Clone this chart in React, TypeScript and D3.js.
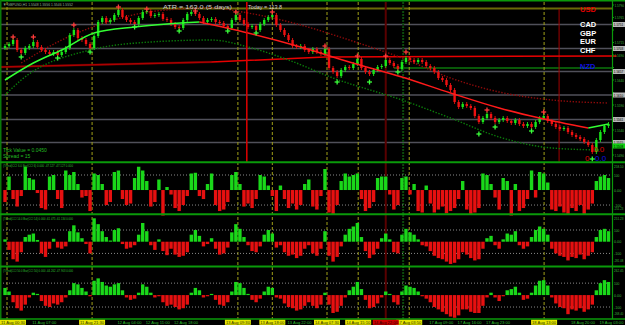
import React from 'react';
import * as d3 from 'd3';

// ---------- data ----------
const symbolLabel = 'GBPUSD,H1  1.5548 1.5556 1.5546 1.5552';
const firstOpen = 1.5704;
const closes = [
  1.5708, 1.5712, 1.5720, 1.5700, 1.5694, 1.5704, 1.5708, 1.5716, 1.5706, 1.5700,
  1.5696, 1.5692, 1.5696, 1.5690, 1.5696, 1.5704, 1.5730, 1.5740, 1.5724, 1.5720,
  1.5712, 1.5704, 1.5728, 1.5756, 1.5764, 1.5756, 1.5760, 1.5770, 1.5780, 1.5766,
  1.5760, 1.5756, 1.5752, 1.5764, 1.5776, 1.5778, 1.5768, 1.5770, 1.5772, 1.5762,
  1.5760, 1.5752, 1.5746, 1.5744, 1.5760, 1.5772, 1.5776, 1.5772, 1.5764, 1.5756,
  1.5760, 1.5762, 1.5756, 1.5754, 1.5748, 1.5744, 1.5760, 1.5770, 1.5760, 1.5752,
  1.5746, 1.5748, 1.5740, 1.5752, 1.5760, 1.5766, 1.5770, 1.5750, 1.5740, 1.5730,
  1.5720, 1.5708, 1.5706, 1.5708, 1.5700, 1.5696, 1.5702, 1.5696, 1.5692, 1.5702,
  1.5664, 1.5656, 1.5648, 1.5660, 1.5666, 1.5664, 1.5672, 1.5682, 1.5664, 1.5656,
  1.5652, 1.5660, 1.5666, 1.5668, 1.5680, 1.5674, 1.5668, 1.5662, 1.5676, 1.5684,
  1.5680, 1.5676, 1.5680, 1.5676, 1.5668, 1.5664, 1.5656, 1.5644, 1.5640, 1.5630,
  1.5620, 1.5596, 1.5586, 1.5592, 1.5588, 1.5584, 1.5568, 1.5556, 1.5564, 1.5572,
  1.5564, 1.5556, 1.5560, 1.5564, 1.5558, 1.5554, 1.5560, 1.5552, 1.5548, 1.5552,
  1.5546, 1.5556, 1.5564, 1.5568, 1.5558, 1.5552, 1.5546, 1.5542, 1.5544, 1.5536,
  1.5530, 1.5526, 1.5522, 1.5516, 1.5510, 1.5496, 1.5520, 1.5536, 1.5548, 1.5552,
];
const fractalsUp: [number, number][] = [
  [2, 1.5726], [7, 1.5726], [17, 1.5750], [28, 1.5786], [35, 1.5782], [47, 1.5778],
  [57, 1.5776], [66, 1.5776], [79, 1.5708], [87, 1.5688], [94, 1.5688], [99, 1.5696],
  [119, 1.5580], [133, 1.5576],
];
const fractalsDown: [number, number][] = [
  [4, 1.5686], [13, 1.5684], [21, 1.5696], [32, 1.5746], [43, 1.5738], [55, 1.5738],
  [62, 1.5734], [82, 1.5636], [90, 1.5636], [97, 1.5656], [117, 1.5532], [121, 1.5546],
  [130, 1.5538], [145, 1.5482],
];
const maFast: [number, number][] = [
  [0, 1.5640], [7, 1.5674], [14, 1.5700], [22, 1.5734], [32, 1.5746], [40, 1.5752],
  [48, 1.5756], [60, 1.5734], [73, 1.5706], [85, 1.5676], [98, 1.5646], [110, 1.5614],
  [122, 1.5584], [132, 1.5564], [144, 1.5544], [149, 1.5552],
];
const maMidDotted: [number, number][] = [
  [4, 1.5674], [14, 1.5720], [23, 1.5750], [34, 1.5774], [43, 1.5782], [51, 1.5784],
  [60, 1.5774], [73, 1.5750], [85, 1.5720], [98, 1.5684], [110, 1.5644], [122, 1.5616],
  [135, 1.5600], [149, 1.5594],
];
const maSlowDotted: [number, number][] = [
  [0, 1.5610], [4, 1.5640], [21, 1.5700], [36, 1.5716], [51, 1.5720], [60, 1.5706],
  [70, 1.5680], [81, 1.5644], [98, 1.5600], [110, 1.5564], [122, 1.5526], [135, 1.5504],
  [147, 1.5500],
];
const redBaseLine: [number, number][] = [[-1, 1.5666], [51, 1.5676], [79, 1.5686], [151, 1.5688]];
const pivotLevels = [1.5751, 1.5703, 1.5657, 1.5610, 1.5561, 1.5515];
const topLevel = 1.5783;
const greenLevel = 1.5664;
const greenLevelStartBar = 96;
const greenMarkPrice = 1.5508;
const priceTicks = [1.5790, 1.5765, 1.5740, 1.5715, 1.5690, 1.5665, 1.5640, 1.5615, 1.5590, 1.5565, 1.5540, 1.5490];

const cci6 = [
  -80, 90, -60, -110, -40, 155, 80, 70, -20, -120,
  -130, 90, 100, -60, -120, 130, 100, 120, 40, -50,
  -40, -140, 110, 100, 40, -100, -80, 120, 130, -60,
  -100, -90, 80, 155, 130, 60, -110, -80, 70, -170,
  20, -30, -120, -140, -100, -40, 110, 115, -40, -60,
  40, 110, -100, -140, -130, -80, 100, 120, 40, -110,
  -90, -120, -60, 100, 90, 30, -40, -140, 30, -60,
  -120, -90, -130, -100, 40, 70, -110, -130, -40, 140,
  -150, -160, -100, 60, 110, 90, 100, 110, -60, -140,
  -120, -80, 80, 90, 90, -30, -130, -100, 80, 90,
  -30, 40, -140, -150, 30, -90, -150, -130, -110, -155,
  -140, -120, -60, 60, -130, -165, -150, -120, 110, 100,
  40, -50, -130, 80, 60, -170, 40, -140, -120, -60,
  130, -50, 120, 110, 50, -130, -140, -110, -150, -160,
  -120, -140, -100, -160, -130, -90, 60, 90, 100, 80,
];
const cci14 = [
  20, -70, -150, -170, -90, 40, 60, 70, 15, -100,
  -130, -60, 25, -50, -60, -40, 90, 140, 80, 30,
  -20, -100, 200, 150, 90, 40, 10, 100, 115, -20,
  -60, -50, -30, 60, 160, 90, -30, -70, 20, -80,
  -115, -60, -110, -130, -120, -90, 60, 100, 50, -40,
  -20, 30, -60, -110, -100, -50, 80, 150, 110, 40,
  -30, -80, -90, -40, 60, 100, 70, -50, -30, -90,
  -120, -110, -140, -120, -60, -30, -100, -120, -60, 90,
  -120, -170, -130, -40, 60, 110, 130, 160, 40, -80,
  -140, -110, -60, 30, 70, 20, -90, -100, 60, 110,
  80, 60, 20, -30, -40, -80, -120, -140, -150, -170,
  -190, -180, -150, -90, -110, -140, -160, -150, -60, 30,
  50, -30, -60, 20, 70, 60, 90, -30, -60, -40,
  40, 100, 130, 110, 60, -60, -100, -120, -130, -160,
  -130, -140, -110, -150, -120, -90, 40, 100, 110, 90,
];
const cci50 = [
  60, 30, -60, -110, -130, -80, -20, 20, 10, -50,
  -90, -100, -70, -80, -60, -20, 40, 100, 90, 60,
  30, -10, 120, 140, 110, 80, 70, 90, 100, 40,
  -20, -40, -30, 20, 90, 70, 20, -20, -10, -60,
  -90, -80, -100, -120, -110, -80, 20, 60, 40, -20,
  -10, 10, -40, -80, -90, -60, 30, 110, 100, 60,
  10, -40, -60, -30, 30, 70, 60, -20, -30, -70,
  -100, -110, -130, -120, -90, -60, -90, -110, -80, 20,
  -80, -150, -140, -90, -20, 40, 70, 110, 50, -40,
  -110, -100, -70, -20, 30, 10, -60, -80, 30, 80,
  70, 60, 30, -10, -30, -60, -100, -120, -140, -160,
  -180, -190, -170, -120, -120, -140, -150, -150, -90, -20,
  20, -20, -50, -10, 40, 50, 70, 20, -40, -30,
  20, 80, 120, 125, 80, -20, -70, -100, -110, -160,
  -120, -130, -110, -140, -120, -80, 40, 100, 125, 110,
];
const panelTitles = [
  '(Trend)CCI 6.0 Bar(CCI 6) 0.000 -47.127 -47.127 0.000',
  '(Trend)CCI 14.0 Bar(CCI 14) 0.000 -61.475 -61.134 0.000',
  '(Trend)CCI 50.0 Bar(CCI 50) 0.000 -44.262 -47.903 0.000',
];
const panelTopLabels = ['258.10', '251.23', '262.45'];
const panelBottomLabels = ['-251.23', '-281.08', '-268.40'];

const timeLabelBars = [0, 7, 14, 21, 28, 35, 42, 49, 56, 63, 70, 77, 84, 91, 98, 105, 112, 119, 126, 133, 140, 147];
const timeLabels = [
  '11 Aug 2015', '11 Aug 07:00', '11 Aug 14:00', '11 Aug 21:00', '12 Aug 04:00', '12 Aug 11:00',
  '12 Aug 18:00', '13 Aug 01:00', '13 Aug 08:00', '13 Aug 15:00', '13 Aug 22:00', '14 Aug 05:00',
  '14 Aug 12:00', '14 Aug 19:00', '17 Aug 02:00', '17 Aug 09:00', '17 Aug 16:00', '17 Aug 23:00',
  '18 Aug 06:00', '18 Aug 13:00', '18 Aug 20:00', '19 Aug 03:00',
];
const sessionLineBars = [0.5, 21.5, 57.5, 66, 79.5, 87.2, 99.8, 133.1];
const sessionLineLabels = [
  '11 Aug 00:30', '11 Aug 21:30', '13 Aug 09:30', '13 Aug 18:00',
  '14 Aug 07:30', '14 Aug 15:10', '17 Aug 03:50', '18 Aug 13:00',
];
const redMarkBar = 94;
const redMarkLabel = '14 Aug 22:00';
const greenMarkBar = 98.3;
const crossBar = 59.7;
const redVLineBar = 136.8;

const atrText = 'ATR = 163.0   (5 days)';
const todayText = 'Today = 113.8';
const currencies = ['USD', 'CAD', 'GBP', 'EUR', 'CHF', 'NZD'];
const currencyColors = ['#e00000', '#ffffff', '#ffffff', '#ffffff', '#ffffff', '#1010e0'];
const infoLines = ['Tick Value = 0.0450', 'Spread = 15'];

// ---------- helpers ----------
function splitBySlope(pts: [number, number][]) {
  const segs: { up: boolean; pts: [number, number][] }[] = [];
  for (let i = 1; i < pts.length; i++) {
    const up = pts[i][1] >= pts[i - 1][1];
    const last = segs[segs.length - 1];
    if (last && last.up === up) last.pts.push(pts[i]);
    else segs.push({ up, pts: [pts[i - 1], pts[i]] });
  }
  return segs;
}

const FONT = "'Liberation Sans', 'DejaVu Sans', Arial, sans-serif";

export default function App() {
  const x = d3.scaleLinear().domain([0, 149]).range([5, 608.5]);
  const y = d3.scaleLinear().domain([1.5478, 1.5794]).range([161, 3]);
  const line = d3
    .line<[number, number]>()
    .x((d) => x(d[0]))
    .y((d) => y(d[1]))
    .curve(d3.curveMonotoneX);
  const straight = d3
    .line<[number, number]>()
    .x((d) => x(d[0]))
    .y((d) => y(d[1]));

  const panels = [
    { data: cci6, scale: d3.scaleLinear().domain([-153, 180]).range([213, 163]), top: 163, bottom: 213 },
    { data: cci14, scale: d3.scaleLinear().domain([-199, 224]).range([265, 215.5]), top: 215.5, bottom: 265 },
    { data: cci50, scale: d3.scaleLinear().domain([-192, 231]).range([318, 267.5]), top: 267.5, bottom: 318 },
  ];

  const up = '#19e619';
  const dn = '#ee1111';

  const boxXs = [...sessionLineBars.map((b) => Math.max(0, x(b) - 13)), x(redMarkBar) - 13];
  const freeLabel = (lx: number) => boxXs.every((bx) => lx + 24 < bx || lx > bx + 26);
  const boxedPrices = [...pivotLevels, greenMarkPrice];
  const freeTick = (p: number) => boxedPrices.every((bp) => Math.abs(y(bp) - y(p)) > 5.5);

  const axisText = (tx: number, ty: number, s: string, key: string, fill = '#3cb43c') => (
    <text
      key={key}
      x={tx}
      y={ty}
      fontSize={s.length > 6 ? 3.1 : 3.8}
      fill={fill}
      textLength={Math.min(9.5, s.length * 1.8)}
      lengthAdjust="spacingAndGlyphs"
    >
      {s}
    </text>
  );

  return (
    <svg
      width={625}
      height={325}
      style={{ position: 'fixed', left: 0, top: 0, display: 'block', background: '#000' }}
      fontFamily={FONT}
    >
      <rect x={0} y={0} width={625} height={325} fill="#000" />

      {/* pivot levels */}
      {pivotLevels.map((p, k) => (
        <line key={'pv' + k} x1={0} x2={612} y1={y(p)} y2={y(p)} stroke="#50505a" strokeWidth={1.6} />
      ))}
      <line x1={0} x2={612} y1={y(topLevel)} y2={y(topLevel)} stroke="#6a6a08" strokeWidth={2.2} />
      <line x1={x(greenLevelStartBar)} x2={612} y1={y(greenLevel)} y2={y(greenLevel)} stroke="#11b011" strokeWidth={1.2} />

      {/* vertical lines */}
      {sessionLineBars.map((b, k) => (
        <line key={'vl' + k} x1={x(b)} x2={x(b)} y1={2} y2={319} stroke="#a0a018" strokeWidth={1} strokeDasharray="3,2" />
      ))}
      <line x1={x(redMarkBar)} x2={x(redMarkBar)} y1={2} y2={319} stroke="#5a0000" strokeWidth={2} />
      <line x1={x(greenMarkBar)} x2={x(greenMarkBar)} y1={2} y2={319} stroke="#0c4a0c" strokeWidth={2} strokeDasharray="2,1" />
      <line x1={x(redVLineBar)} x2={x(redVLineBar)} y1={9} y2={162} stroke="#a00000" strokeWidth={1} />

      {/* red base line */}
      <path d={straight(redBaseLine) || ''} fill="none" stroke="#e80000" strokeWidth={1.5} />
      <path d={straight(redBaseLine.slice(0, 2)) || ''} fill="none" stroke="#700000" strokeWidth={2.5} opacity={0.5} />

      {/* dotted MAs */}
      <path d={line(maMidDotted) || ''} fill="none" stroke="#8a0a0a" strokeWidth={1.4} strokeDasharray="1.4,1.6" />
      <path d={line(maSlowDotted) || ''} fill="none" stroke="#0a7a0a" strokeWidth={1.4} strokeDasharray="1.4,1.6" />

      {/* candles */}
      {closes.map((c, i) => {
        const o = i === 0 ? firstOpen : closes[i - 1];
        const hi = Math.max(o, c);
        const lo = Math.min(o, c);
        const col = c >= o ? up : dn;
        const cx = x(i);
        const yt = y(hi);
        const yb = y(lo);
        return (
          <g key={'c' + i}>
            <line x1={cx} x2={cx} y1={yt - 2} y2={yb + 2} stroke={col} strokeWidth={0.9} />
            <rect x={cx - 1.2} y={yt} width={2.4} height={Math.max(1, yb - yt)} fill={col} />
          </g>
        );
      })}

      {/* fast MA colored by slope */}
      {splitBySlope(maFast).map((s, k) => (
        <path key={'ma' + k} d={line(s.pts) || ''} fill="none" stroke={s.up ? '#33ff33' : '#ff1a1a'} strokeWidth={1.5} />
      ))}

      {/* crosshair vertical */}
      <line x1={x(crossBar)} x2={x(crossBar)} y1={2} y2={162} stroke="#e00000" strokeWidth={1.5} />

      {/* fractals */}
      {fractalsUp.map(([b, p], k) => (
        <g key={'fu' + k} stroke="#ff3a3a" strokeWidth={1.3}>
          <line x1={x(b) - 2.5} x2={x(b) + 2.5} y1={y(p)} y2={y(p)} />
          <line x1={x(b)} x2={x(b)} y1={y(p) - 2.5} y2={y(p) + 2.5} />
        </g>
      ))}
      {fractalsDown.map(([b, p], k) => (
        <g key={'fd' + k} stroke="#3aff3a" strokeWidth={1.3}>
          <line x1={x(b) - 2.5} x2={x(b) + 2.5} y1={y(p)} y2={y(p)} />
          <line x1={x(b)} x2={x(b)} y1={y(p) - 2.5} y2={y(p) + 2.5} />
        </g>
      ))}

      {/* main panel texts */}
      <text x={3} y={5.5} fontSize={4.2} fill="#8fb08f" textLength={70} lengthAdjust="spacingAndGlyphs">
        {'▼ ' + symbolLabel}
      </text>
      <text x={163} y={8.5} fontSize={6} fill="#d0d0d0" textLength={69} lengthAdjust="spacingAndGlyphs">
        {atrText}
      </text>
      <text x={248} y={8.5} fontSize={6} fill="#d0d0d0" textLength={34} lengthAdjust="spacingAndGlyphs">
        {todayText}
      </text>
      {currencies.map((c, k) => (
        <text
          key={'cur' + k}
          x={580}
          y={[11.5, 27, 35.5, 44, 52.5, 68.5][k]}
          fontSize={7.5}
          fontWeight="bold"
          fill={currencyColors[k]}
        >
          {c}
        </text>
      ))}
      {infoLines.map((t, k) => (
        <text key={'inf' + k} x={3} y={152 + k * 6} fontSize={5} fill="#22bb22">
          {t}
        </text>
      ))}
      <text x={593} y={152} fontSize={8} fill="#e00000">0.0</text>
      <text x={585} y={160.8} fontSize={8} fill="#e00000">0</text>
      <text x={595} y={160.8} fontSize={8} fill="#1010e0">0.0</text>

      {/* indicator panels */}
      {panels.map((pn, k) => (
        <g key={'pn' + k}>
          {[100, -100].map((v) => (
            <line key={v} x1={0} x2={612} y1={pn.scale(v)} y2={pn.scale(v)} stroke="#8a8a8a" strokeWidth={1} strokeDasharray="1,2" />
          ))}
          {pn.data.map((v, i) => {
            const y0 = pn.scale(0);
            const y1 = pn.scale(v);
            return (
              <rect
                key={i}
                x={x(i) - 1.7}
                y={Math.min(y0, y1)}
                width={3.4}
                height={Math.abs(y1 - y0)}
                fill={v >= 0 ? '#1ad81a' : '#e61010'}
              />
            );
          })}
          <text x={3} y={pn.top + 4} fontSize={4} fill="#2fbf2f" textLength={70} lengthAdjust="spacingAndGlyphs">
            {panelTitles[k]}
          </text>
          {axisText(614, pn.top + 4.5, panelTopLabels[k], 'a1')}
          {axisText(614, pn.scale(100) + 1.5, '100', 'a2')}
          {axisText(614, pn.scale(0) + 1.5, '0.00', 'a3')}
          {axisText(614, pn.scale(-100) + 1.5, '-100', 'a4')}
          {axisText(613.8, pn.bottom - 3.5, panelBottomLabels[k], 'a5')}
        </g>
      ))}

      {/* frames */}
      <line x1={0} x2={625} y1={0.75} y2={0.75} stroke="#0a9a0a" strokeWidth={1.5} />
      <line x1={0.75} x2={0.75} y1={0} y2={319} stroke="#0a7a0a" strokeWidth={1.5} />
      {[162.2, 214.3, 266.4].map((yy) => (
        <line key={yy} x1={0} x2={625} y1={yy} y2={yy} stroke="#0a9a0a" strokeWidth={2} />
      ))}
      <line x1={0} x2={625} y1={319} y2={319} stroke="#0a9a0a" strokeWidth={1.5} />
      <line x1={612.5} x2={612.5} y1={0} y2={319} stroke="#0a9a0a" strokeWidth={1.2} />

      {/* price axis */}
      {priceTicks.map((p, k) => (
        <g key={'pt' + k}>
          <line x1={612} x2={614} y1={y(p)} y2={y(p)} stroke="#0a9a0a" />
          {freeTick(p) ? axisText(614.5, y(p) + 1.5, p.toFixed(4), 't') : null}
        </g>
      ))}
      {pivotLevels.map((p, k) => (
        <g key={'pb' + k}>
          <rect x={613} y={y(p) - 2.5} width={12} height={5} fill="#b8b8b8" />
          {axisText(613.8, y(p) + 1.5, p.toFixed(4), 't', '#000')}
        </g>
      ))}
      <rect x={613} y={y(greenMarkPrice) - 2.5} width={12} height={5} fill="#10d010" />
      {axisText(613.8, y(greenMarkPrice) + 1.5, greenMarkPrice.toFixed(4), 'g', '#000')}

      {/* time axis */}
      {timeLabelBars.map((b, k) =>
        freeLabel(x(b) - 1) ? (
          <text key={'tl' + k} x={x(b) - 1} y={324} fontSize={4} fill="#2fbf2f" textLength={24} lengthAdjust="spacingAndGlyphs">
            {timeLabels[k]}
          </text>
        ) : null
      )}
      {sessionLineBars.map((b, k) => (
        <g key={'sl' + k}>
          <rect x={Math.max(0, x(b) - 13)} y={319.8} width={26} height={5} fill="#e6e600" />
          <text x={Math.max(0, x(b) - 13) + 1} y={324} fontSize={4} fill="#303000" textLength={24} lengthAdjust="spacingAndGlyphs">
            {sessionLineLabels[k]}
          </text>
        </g>
      ))}
      <rect x={x(redMarkBar) - 13} y={319.8} width={26} height={5} fill="#d00000" />
      <text x={x(redMarkBar) - 12} y={324} fontSize={4} fill="#300000" textLength={24} lengthAdjust="spacingAndGlyphs">
        {redMarkLabel}
      </text>
    </svg>
  );
}
